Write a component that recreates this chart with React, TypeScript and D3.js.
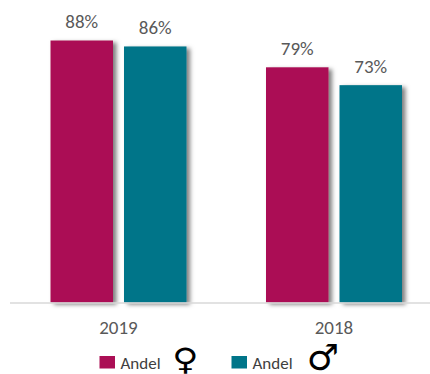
import React from "react";
import * as d3 from "d3";

const years = ["2019", "2018"];
const seriesKeys = ["female", "male"];
const female = [88, 79];
const male = [86, 73];
const seriesColors = ["#AB0F55", "#007589"];
const legendLabels = ["Andel", "Andel"];
const legendSymbols = ["\u2640", "\u2642"];

const WIDTH = 430;
const HEIGHT = 374;
const BASELINE = 302.5;
const FONT = "Carlito, Lato, 'Open Sans', sans-serif";

export default function App() {
  const x0 = d3.scaleBand<string>().domain(years).range([10.75, 441.75]);
  const y = d3.scaleLinear().domain([0, 88]).range([BASELINE, 40.5]);
  const barWidth = 62.5;
  const gap = 11;
  const seriesValues = [female, male];

  return (
    <svg
      width={WIDTH}
      height={HEIGHT}
      style={{ position: "absolute", left: 0, top: 0, background: "#fff" }}
      fontFamily={FONT}
    >
      <defs>
        <filter id="barShadow" x="-20%" y="-5%" width="150%" height="115%">
          <feDropShadow dx="3.5" dy="2" stdDeviation="2.2" floodColor="#000" floodOpacity="0.5" />
        </filter>
      </defs>

      {years.map((year, i) => {
        const centre = (x0(year) ?? 0) + x0.bandwidth() / 2;
        return (
          <g key={year}>
            {seriesKeys.map((key, s) => {
              const value = seriesValues[s][i];
              const left = s === 0 ? centre - gap / 2 - barWidth : centre + gap / 2;
              return (
                <g key={key}>
                  <rect
                    x={left}
                    y={y(value)}
                    width={barWidth}
                    height={BASELINE - y(value)}
                    fill={seriesColors[s]}
                    filter="url(#barShadow)"
                  />
                  <text
                    x={left + barWidth / 2}
                    y={y(value) - 12.5}
                    textAnchor="middle"
                    fontSize={19}
                    fill="#595959"
                  >
                    {value}%
                  </text>
                </g>
              );
            })}
            <text x={centre} y={334} textAnchor="middle" fontSize={19} fill="#595959">
              {year}
            </text>
          </g>
        );
      })}

      <line x1={10} x2={430} y1={303} y2={303} stroke="#D9D9D9" strokeWidth={1.5} />

      {legendLabels.map((label, i) => {
        const left = [99.5, 231.5][i];
        const symbolX = [185.5, 323][i];
        const symbolY = [370, 370][i];
        const stretchY = [0.85, 1][i];
        return (
          <g key={i}>
            <rect x={left} y={356} width={15.5} height={12.5} fill={seriesColors[i]} />
            <text x={left + 21} y={368.5} fontSize={17} fill="#404040">
              {label}
            </text>
            <text
              transform={`translate(${symbolX},${symbolY}) scale(1,${stretchY})`}
              textAnchor="middle"
              fontSize={36}
              fontFamily="'DejaVu Sans', sans-serif"
              fill="#000"
            >
              {legendSymbols[i]}
            </text>
          </g>
        );
      })}
    </svg>
  );
}
